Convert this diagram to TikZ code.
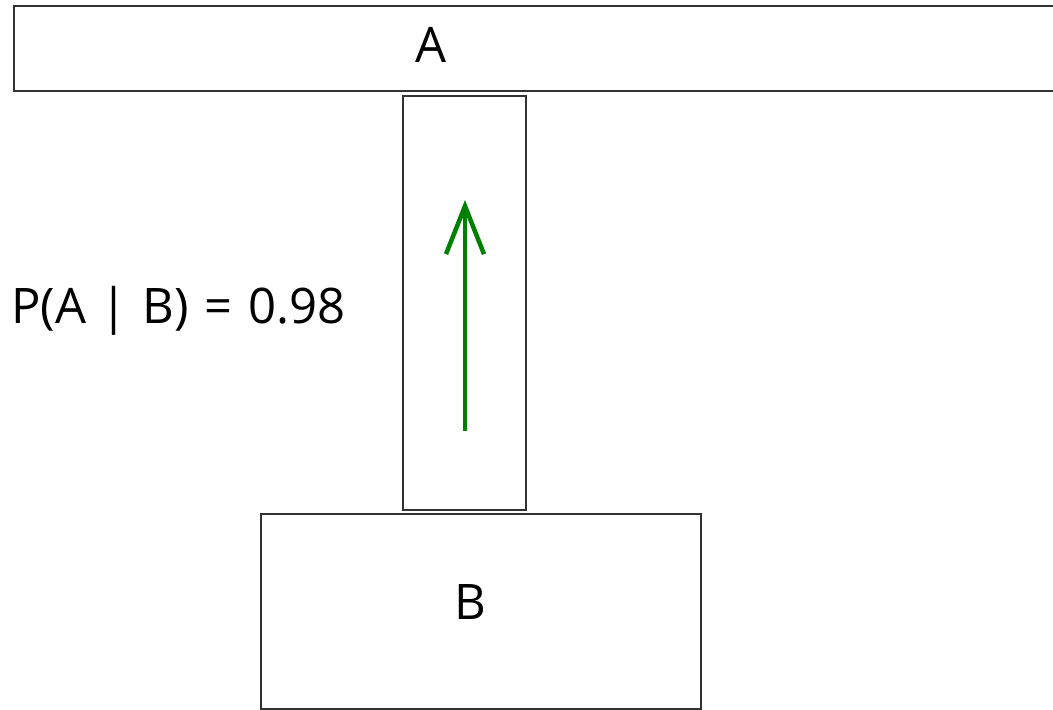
\documentclass[tikz,border=0pt]{standalone}
\usepackage{fontspec}
\setmainfont{Open Sans}
\usetikzlibrary{arrows.meta}
\definecolor{arrowgreen}{RGB}{0,128,0}
\definecolor{boxline}{RGB}{50,50,50}
\begin{document}
\begin{tikzpicture}[x=1pt,y=-1pt,
  boxstyle/.style={draw=boxline,line width=2pt,fill=white},
  lbl/.style={font=\fontsize{49}{54}\selectfont,inner sep=0pt},
  greenarrow/.style={draw=arrowgreen,line width=4.5pt,-{Straight Barb[length=48pt,width=38pt,line width=4.5pt]}}]
\useasboundingbox (0,0) rectangle (1053,710);
\clip (0,0) rectangle (1053,710);
\draw[boxstyle] (13.5,6) rectangle (1070,91);
\node[lbl] (A) at (431,45) {A};
\draw[boxstyle] (402.5,96) rectangle (526,509.5);
\draw[boxstyle] (260.5,514) rectangle (700.5,708.5);
\node[lbl] (B) at (470,602) {B};
\node[lbl,anchor=west] (P) at (11,311) {P(A\hspace{0.3em}|\hspace{0.3em}B)\hspace{0.32em}=\hspace{0.32em}0.98};
\coordinate (arrowfrom) at (465,431);
\coordinate (arrowto) at (465,200);
\draw[greenarrow] (arrowfrom) -- (arrowto);
\end{tikzpicture}
\end{document}
